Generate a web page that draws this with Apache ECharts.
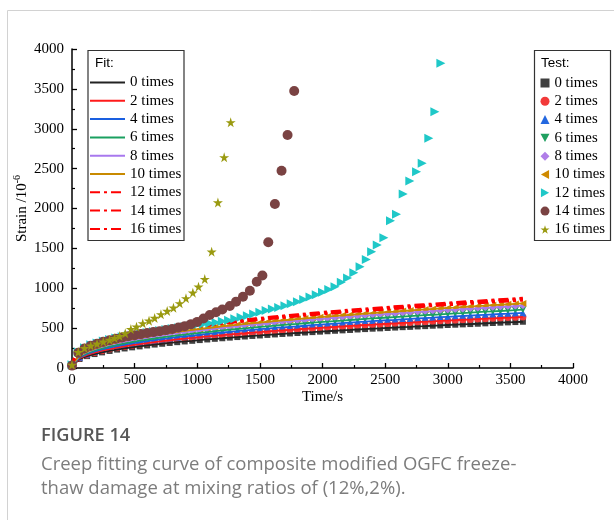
<!DOCTYPE html>
<html><head><meta charset="utf-8">
<script src="https://cdn.jsdelivr.net/npm/echarts@6/dist/echarts.min.js"></script>
<style>html,body{margin:0;padding:0;background:#fff}#c{width:614px;height:520px}</style>
</head><body><div id="c"></div>
<script>
// ---- data ----
const testTime = [0,60,120,180,240,300,360,420,480,540,600,660,720,780,840,900,960,1020,1080,1140,1200,1260,1320,1380,1440,1500,1560,1620,1680,1740,1800,1860,1920,1980,2040,2100,2160,2220,2280,2340,2400,2460,2520,2580,2640,2700,2760,2820,2880,2940,3000,3060,3120,3180,3240,3300,3360,3420,3480,3540,3600];
const test0  = [15,113,149,175,196,214,231,245,259,271,283,294,304,314,324,333,341,350,358,366,373,381,388,395,402,408,415,421,427,433,439,445,450,456,461,467,472,477,483,488,493,497,502,507,512,516,521,525,530,534,539,543,547,551,555,560,564,568,572,576,580];
const test2  = [20,124,164,193,217,237,255,271,286,300,313,325,336,347,358,368,377,387,396,404,413,421,429,436,444,451,458,465,472,479,485,492,498,504,510,516,522,528,533,539,544,550,555,560,565,570,576,581,585,591,595,600,605,609,614,619,623,627,632,636,641];
const test4  = [25,134,177,208,234,256,275,292,309,323,337,350,363,375,386,397,407,417,427,436,445,454,462,471,479,487,494,502,509,516,523,530,537,543,550,557,563,569,575,581,587,593,599,604,610,615,621,626,631,637,642,647,652,657,662,667,672,677,681,686,691];
const test6  = [30,142,187,220,247,270,291,309,326,342,357,370,384,396,408,419,430,441,451,461,471,480,489,498,506,515,523,531,539,546,553,561,568,575,582,589,595,602,608,615,621,627,633,639,645,651,656,662,668,673,679,684,689,695,700,706,710,715,720,725,731];
const test8  = [35,152,200,235,264,289,311,330,349,366,381,396,410,423,436,448,460,471,482,493,503,513,522,532,541,550,558,567,576,584,592,599,607,614,622,629,636,643,650,657,664,670,677,683,689,695,702,708,714,720,726,731,737,743,748,754,759,765,770,775,781];
const test10 = [40,157,208,244,274,300,322,343,362,379,395,411,425,439,452,465,477,489,500,511,522,532,542,552,561,570,579,588,597,605,614,622,629,637,645,653,660,667,674,682,688,695,702,708,715,721,728,734,740,747,753,758,764,771,776,782,788,793,799,804,810];

const t12 = [0,50,100,150,200,250,300,350,400,450,500,550,600,650,700,750,800,850,900,950,1000,1050,1100,1150,1200,1250,1300,1350,1400,1450,1500,1550,1600,1650,1700,1750,1800,1850,1900,1950,2000,2050,2100,2150,2200,2250,2300,2350,2392,2437,2490,2543,2591,2644,2697,2751,2796,2849,2897,2945];
const v12 = [40,200,255,290,315,338,357,375,392,406,420,433,446,458,470,482,494,506,518,530,542,553,562,572,585,600,617,636,656,678,700,720,740,760,782,805,830,858,890,920,950,985,1020,1075,1130,1195,1270,1360,1459,1542,1634,1847,1927,2182,2345,2462,2567,2880,3214,3820];
const t14 = [0,50,100,150,200,250,300,350,400,450,500,550,600,650,700,750,800,850,900,950,1000,1050,1100,1150,1200,1260,1310,1365,1420,1475,1520,1567,1620,1673,1721,1774];
const v14 = [30,190,245,280,305,328,348,366,383,398,412,425,438,450,462,475,490,508,525,550,578,620,665,700,733,777,832,894,969,1082,1160,1576,2057,2474,2922,3473];
const t16 = [0,50,100,150,200,250,300,340,380,425,470,515,565,615,660,710,760,810,860,910,965,1010,1060,1115,1165,1215,1267];
const v16 = [40,200,250,280,305,330,352,375,400,435,488,518,560,593,627,673,715,756,811,874,945,1020,1115,1459,2075,2642,3081];

const fitTime = [0,15,40,80,150,250,400,600,800,1000,1300,1600,2000,2400,2800,3200,3600];
const fit12 = [0,106,155,202,257,313,375,439,491,534,591,640,698,748,794,836,875];
const fit14 = [0,104,152,199,253,308,369,432,483,526,581,630,687,736,782,823,861];
const fit16 = [0,103,150,196,250,304,364,426,476,518,574,621,677,726,771,812,849];

const labels = ['0 times','2 times','4 times','6 times','8 times','10 times','12 times','14 times','16 times'];
const xTicks = {min:0, max:4000, interval:500};
const yTicks = {min:0, max:4000, interval:500};

// ---- build ----
const pair = (ts, vs) => ts.map((t, i) => [t, vs[i]]);
const STAR = 'path://M50,0 L61,35 L98,35 L68,57 L79,91 L50,70 L21,91 L32,57 L2,35 L39,35 Z';
const TRI_DOWN = 'path://M0,0 L10,0 L5,9 Z';
const TRI_LEFT = 'path://M9,0 L9,10 L0,5 Z';
const TRI_RIGHT = 'path://M0,0 L9,5 L0,10 Z';
const colors = ['#3f3f3f','#f23a3a','#2468e0','#20a060','#b07ee8','#cf8a00','#1fc8c8','#7a4242','#9a9a10'];
const testSpec = [
  {d: pair(testTime,test0),  sym:'rect', size:6},
  {d: pair(testTime,test2),  sym:'circle', size:7},
  {d: pair(testTime,test4),  sym:'triangle', size:7},
  {d: pair(testTime,test6),  sym:TRI_DOWN, size:7},
  {d: pair(testTime,test8),  sym:'diamond', size:7},
  {d: pair(testTime,test10), sym:TRI_LEFT, size:7},
  {d: pair(t12,v12), sym:TRI_RIGHT, size:9},
  {d: pair(t14,v14), sym:'circle', size:10},
  {d: pair(t16,v16), sym:STAR, size:10}
];
const fitLineColors = ['#222','#ff1a1a','#1a5fe0','#1aa060','#a878ee','#c88a00','#ff0000','#ff0000','#ff0000'];
const fitData = [
  pair(testTime,test0), pair(testTime,test2), pair(testTime,test4), pair(testTime,test6),
  pair(testTime,test8), pair(testTime,test10), pair(fitTime,fit12), pair(fitTime,fit14), pair(fitTime,fit16)
];

const series = [];
testSpec.forEach((s, i) => {
  series.push({
    name: 'Test ' + labels[i], type: 'scatter', data: s.d, symbol: s.sym,
    symbolSize: s.size, itemStyle: {color: colors[i], opacity: 1}, z: 2 + (i >= 6 ? 3 : 0)
  });
});
fitData.forEach((d, i) => {
  series.push({
    name: 'Fit ' + labels[i], type: 'line', data: d, smooth: i >= 6, symbol: 'none', showSymbol: false,
    lineStyle: {color: fitLineColors[i], width: i >= 6 ? 2.8 : 1.8, type: i >= 6 ? [10,4,3,4] : 'solid'},
    itemStyle: {color: fitLineColors[i]}, z: 4
  });
});

const serif = 'Liberation Serif';
const axisLabelStyle = {fontFamily: serif, fontSize: 15, color: '#000', formatter: v => String(v)};
const axisCommon = {
  type: 'value',
  axisLine: {show: true, lineStyle: {color: '#000', width: 1.5}},
  axisTick: {show: true, inside: true, length: 5, lineStyle: {color: '#000', width: 1.3}},
  minorTick: {show: true, splitNumber: 2, length: 3, lineStyle: {color: '#000', width: 1.2}},
  splitLine: {show: false}
};

const legendText = {fontFamily: serif, fontSize: 15, color: '#000', lineHeight: 15};
const option = {
  animation: false,
  backgroundColor: '#fff',
  textStyle: {fontFamily: serif},
  grid: {left: 72, right: 41, top: 49, bottom: 152, containLabel: false},
  xAxis: Object.assign({}, axisCommon, xTicks, {
    name: 'Time/s', nameLocation: 'middle', nameGap: 22, nameMoveOverlap: false,
    nameTextStyle: {fontFamily: serif, fontSize: 15, color: '#000'},
    axisLabel: Object.assign({}, axisLabelStyle, {margin: 5})
  }),
  yAxis: Object.assign({}, axisCommon, yTicks, {
    name: '{a|Strain /10}{b|-6}', nameLocation: 'middle', nameGap: 40, nameRotate: 90, nameMoveOverlap: false,
    nameTextStyle: {fontFamily: serif, color: '#000', rich: {
      a: {fontFamily: serif, fontSize: 15, color: '#000', lineHeight: 20},
      b: {fontFamily: serif, fontSize: 10, color: '#000', lineHeight: 11, verticalAlign: 'top'}
    }},
    axisLabel: Object.assign({}, axisLabelStyle, {margin: 8})
  }),
  legend: [
    {data: labels.map(l => 'Fit ' + l), orient: 'vertical', left: 89, top: 75, padding: 0,
     itemWidth: 35, itemHeight: 14, itemGap: 3.3, textStyle: legendText,
     itemStyle: {opacity: 0}, formatter: n => n.replace(/^Fit /, ''), selectedMode: false},
    {data: labels.map(l => 'Test ' + l), orient: 'vertical', left: 540.5, top: 75.5, padding: 0,
     itemWidth: 9, itemHeight: 9, itemGap: 3.3, textStyle: Object.assign({}, legendText, {fontSize: 14.8}),
     formatter: n => n.replace(/^Test /, ''), selectedMode: false}
  ],
  graphic: [
    {type: 'line', shape: {x1: 7.5, y1: 10.5, x2: 614, y2: 10.5}, style: {stroke: '#d2d2d2', lineWidth: 1}, silent: true},
    {type: 'line', shape: {x1: 7.5, y1: 10.5, x2: 7.5, y2: 520}, style: {stroke: '#d2d2d2', lineWidth: 1}, silent: true},
    {type: 'rect', shape: {x: 88, y: 50.5, width: 96, height: 190}, style: {fill: 'none', stroke: '#333', lineWidth: 1.2}, silent: true, z: 10},
    {type: 'rect', shape: {x: 534.5, y: 50.5, width: 76, height: 190}, style: {fill: 'none', stroke: '#333', lineWidth: 1.2}, silent: true, z: 10},
    {type: 'text', x: 95, y: 56, style: {text: 'Fit:', font: '13.5px "Liberation Sans", Arial, sans-serif', fill: '#000', verticalAlign: 'top'}, z: 10},
    {type: 'text', x: 541, y: 56, style: {text: 'Test:', font: '13.5px "Liberation Sans", Arial, sans-serif', fill: '#000', verticalAlign: 'top'}, z: 10},
    {type: 'text', x: 41, y: 427, style: {text: 'FIGURE 14', font: '600 18.2px "Open Sans", sans-serif', fill: '#575757', verticalAlign: 'top'}},
    {type: 'text', x: 41, y: 455, style: {text: 'Creep fitting curve of composite modified OGFC freeze-', font: '18.5px "Open Sans", sans-serif', fill: '#7c7c7c', verticalAlign: 'top'}},
    {type: 'text', x: 41, y: 479, style: {text: 'thaw damage at mixing ratios of (12%,2%).', font: '18.5px "Open Sans", sans-serif', fill: '#7c7c7c', verticalAlign: 'top'}}
  ],
  series: series
};
const chart = echarts.init(document.getElementById('c'), null, {renderer: 'canvas'});
chart.setOption(option);
</script></body></html>
